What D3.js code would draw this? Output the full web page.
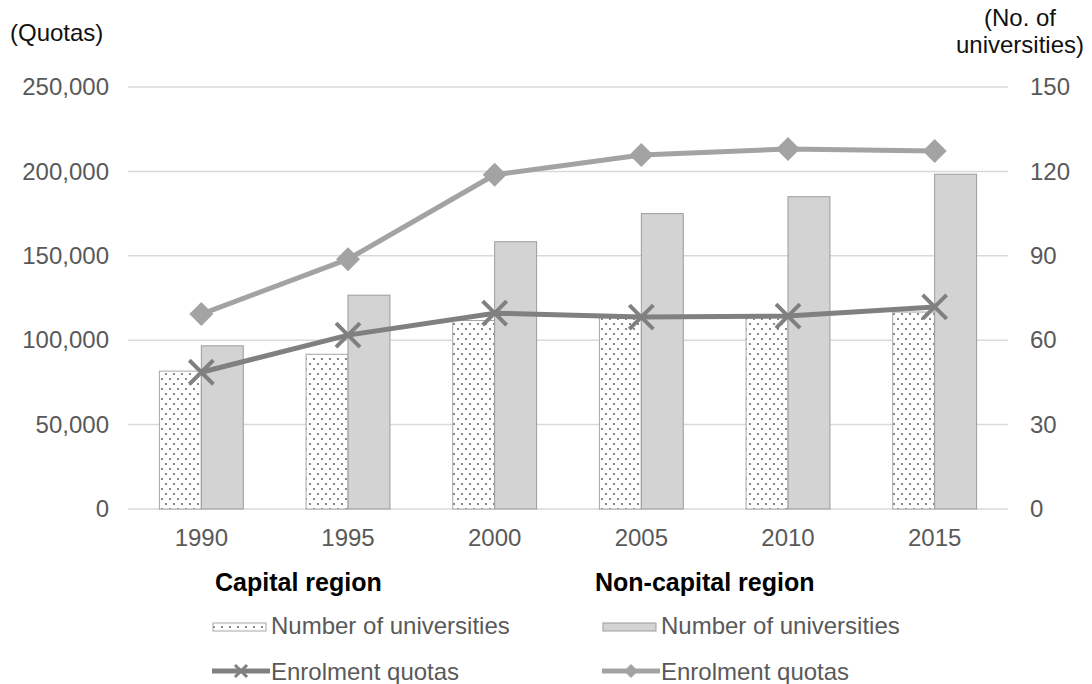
<!DOCTYPE html>
<html>
<head>
<meta charset="utf-8">
<script src="https://cdn.jsdelivr.net/npm/d3@7"></script>
<style>
  body { margin: 0; background: #fff; }
  svg { display: block; font-family: Arial, "Liberation Sans", Helvetica, sans-serif; }
</style>
</head>
<body>
<svg id="chart"></svg>
<script>
// data
const years = [1990, 1995, 2000, 2005, 2010, 2015];
const capitalUniversities = [49, 55, 67, 68, 68, 70];
const nonCapitalUniversities = [58, 76, 95, 105, 111, 119];
const capitalQuotas = [81000, 103000, 116000, 113700, 114300, 119700];
const nonCapitalQuotas = [115500, 148000, 198000, 209700, 213300, 212100];
const quotaTicks = [0, 50000, 100000, 150000, 200000, 250000];
const univTicks = [0, 30, 60, 90, 120, 150];

const width = 1092, height = 684;
const margin = {top: 87, right: 84, bottom: 175, left: 128};
const innerW = width - margin.left - margin.right;
const innerH = height - margin.top - margin.bottom;

const capColor = '#808080';
const nonCapColor = '#a3a3a3';
const tickColor = '#595959';

const svg = d3.select('#chart')
    .attr('width', width)
    .attr('height', height);

// dotted fill for capital region bars
const pattern = svg.append('defs').append('pattern')
    .attr('id', 'dots')
    .attr('patternUnits', 'userSpaceOnUse')
    .attr('width', 8)
    .attr('height', 10);
pattern.append('rect').attr('width', 8).attr('height', 10).attr('fill', '#fff');
pattern.append('rect').attr('x', 1).attr('y', 1).attr('width', 2).attr('height', 2).attr('fill', '#8a8a8a');
pattern.append('rect').attr('x', 5).attr('y', 6).attr('width', 2).attr('height', 2).attr('fill', '#8a8a8a');

const chart = svg.append('g')
    .attr('transform', `translate(${margin.left},${margin.top})`);

const xScale = d3.scaleBand()
    .domain(years)
    .range([0, innerW]);

const yLeft = d3.scaleLinear()
    .domain([0, 250000])
    .range([innerH, 0]);

const yRight = d3.scaleLinear()
    .domain([0, 150])
    .range([innerH, 0]);

// gridlines
chart.append('g')
    .selectAll('line')
    .data(quotaTicks)
    .join('line')
    .attr('x1', 0)
    .attr('x2', innerW)
    .attr('y1', d => yLeft(d))
    .attr('y2', d => yLeft(d))
    .attr('stroke', '#d9d9d9')
    .attr('stroke-width', 1.5);

// axes
const leftAxis = d3.axisLeft(yLeft)
    .tickValues(quotaTicks)
    .tickFormat(d3.format(','))
    .tickSize(0)
    .tickPadding(19);

const rightAxis = d3.axisRight(yRight)
    .tickValues(univTicks)
    .tickSize(0)
    .tickPadding(22);

const bottomAxis = d3.axisBottom(xScale)
    .tickSize(0)
    .tickPadding(20);

const styleAxis = g => {
    g.select('.domain').remove();
    g.selectAll('text')
        .attr('fill', tickColor)
        .style('font-size', '24px')
        .style('font-family', 'Arial, "Liberation Sans", sans-serif');
};

chart.append('g').call(leftAxis).call(styleAxis);
chart.append('g').attr('transform', `translate(${innerW},0)`).call(rightAxis).call(styleAxis);
chart.append('g').attr('transform', `translate(0,${innerH})`).call(bottomAxis).call(styleAxis);

// bars
const barW = xScale.bandwidth() * 0.286;
const rows = years.map((y, i) => ({
    year: y,
    cap: capitalUniversities[i],
    nonCap: nonCapitalUniversities[i],
    capQ: capitalQuotas[i],
    nonCapQ: nonCapitalQuotas[i]
}));
const cx = d => xScale(d.year) + xScale.bandwidth() / 2;

chart.selectAll('.bar-cap')
    .data(rows)
    .join('rect')
    .attr('class', 'bar-cap')
    .attr('x', d => cx(d) - barW)
    .attr('y', d => yRight(d.cap))
    .attr('width', barW)
    .attr('height', d => innerH - yRight(d.cap))
    .attr('fill', 'url(#dots)')
    .attr('stroke', '#a6a6a6')
    .attr('stroke-width', 1);

chart.selectAll('.bar-noncap')
    .data(rows)
    .join('rect')
    .attr('class', 'bar-noncap')
    .attr('x', d => cx(d))
    .attr('y', d => yRight(d.nonCap))
    .attr('width', barW)
    .attr('height', d => innerH - yRight(d.nonCap))
    .attr('fill', '#d3d3d3')
    .attr('stroke', '#9c9c9c')
    .attr('stroke-width', 1);

// lines
const capLine = d3.line().x(cx).y(d => yLeft(d.capQ));
const nonCapLine = d3.line().x(cx).y(d => yLeft(d.nonCapQ));

chart.append('path')
    .datum(rows)
    .attr('fill', 'none')
    .attr('stroke', capColor)
    .attr('stroke-width', 5)
    .attr('d', capLine);

chart.append('path')
    .datum(rows)
    .attr('fill', 'none')
    .attr('stroke', nonCapColor)
    .attr('stroke-width', 5)
    .attr('d', nonCapLine);

// markers
const crossPath = s => `M${-s},${-s}L${s},${s}M${-s},${s}L${s},${-s}`;
const diamondPath = s => `M0,${-s}L${s},0L0,${s}L${-s},0Z`;

chart.selectAll('.mark-cap')
    .data(rows)
    .join('path')
    .attr('class', 'mark-cap')
    .attr('transform', d => `translate(${cx(d)},${yLeft(d.capQ)})`)
    .attr('d', crossPath(12))
    .attr('fill', 'none')
    .attr('stroke', capColor)
    .attr('stroke-width', 4);

chart.selectAll('.mark-noncap')
    .data(rows)
    .join('path')
    .attr('class', 'mark-noncap')
    .attr('transform', d => `translate(${cx(d)},${yLeft(d.nonCapQ)})`)
    .attr('d', diamondPath(12))
    .attr('fill', nonCapColor);

// axis titles
svg.append('text')
    .attr('x', 10)
    .attr('y', 41)
    .style('font-size', '24px')
    .attr('fill', '#111')
    .text('(Quotas)');

// right title is two lines in one text element
const rightTitle = svg.append('text')
    .attr('y', 26)
    .attr('text-anchor', 'middle')
    .style('font-size', '24px')
    .attr('fill', '#111');
rightTitle.append('tspan').attr('x', 1020).text('(No. of');
rightTitle.append('tspan').attr('x', 1020).attr('dy', 27).text('universities)');

// legend
const legend = svg.append('g');
const groups = [
    {title: 'Capital region', x: 213, px: 213, fill: 'url(#dots)', stroke: '#a6a6a6', color: capColor, marker: crossPath(6), isCross: true},
    {title: 'Non-capital region', x: 593, px: 603, fill: '#d3d3d3', stroke: '#9c9c9c', color: nonCapColor, marker: diamondPath(7), isCross: false}
];

groups.forEach(g => {
    legend.append('text')
        .attr('x', g.x + 2)
        .attr('y', 591)
        .style('font-size', '25px')
        .style('font-weight', 'bold')
        .attr('fill', '#000')
        .text(g.title);

    const px = g.px;
    legend.append('rect')
        .attr('x', px)
        .attr('y', 623)
        .attr('width', 53)
        .attr('height', 8)
        .attr('fill', g.fill)
        .attr('stroke', g.stroke);

    legend.append('text')
        .attr('x', px + 58)
        .attr('y', 634)
        .style('font-size', '24px')
        .attr('fill', tickColor)
        .text('Number of universities');

    legend.append('line')
        .attr('x1', px - 1)
        .attr('x2', px + 57)
        .attr('y1', 671)
        .attr('y2', 671)
        .attr('stroke', g.color)
        .attr('stroke-width', 5);

    legend.append('path')
        .attr('transform', `translate(${px + 28},671)`)
        .attr('d', g.marker)
        .attr('fill', g.isCross ? 'none' : g.color)
        .attr('stroke', g.isCross ? g.color : 'none')
        .attr('stroke-width', 3);

    legend.append('text')
        .attr('x', px + 58)
        .attr('y', 680)
        .style('font-size', '24px')
        .attr('fill', tickColor)
        .text('Enrolment quotas');
});
</script>
</body>
</html>
